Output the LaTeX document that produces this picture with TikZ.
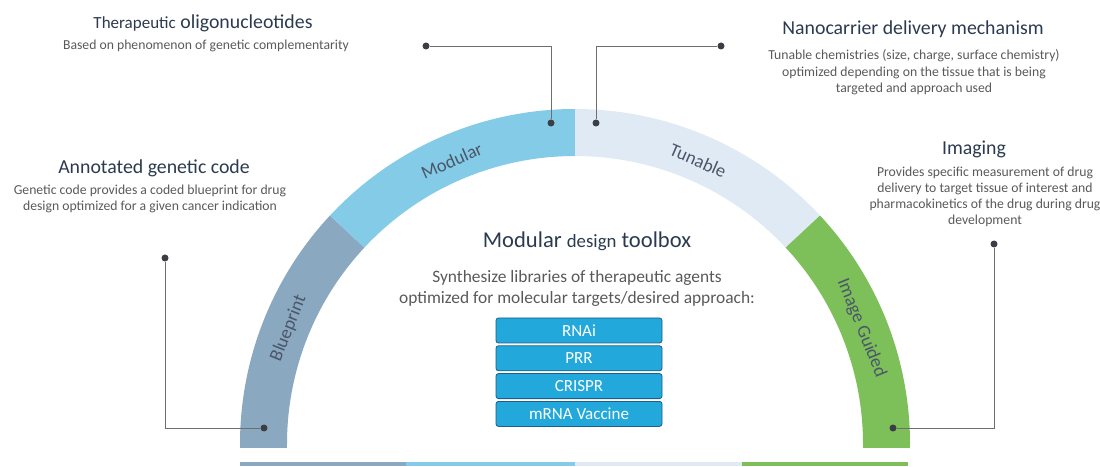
\documentclass[tikz,border=0pt]{standalone}
\usepackage{fontspec}
\setmainfont{Carlito}
\usetikzlibrary{positioning}

\definecolor{bpblue}{HTML}{8AA8C0}
\definecolor{modblue}{HTML}{84CBE8}
\definecolor{tunblue}{HTML}{E0EAF5}
\definecolor{imggreen}{HTML}{7DC05A}
\definecolor{boxblue}{HTML}{22A8DA}
\definecolor{boxedge}{HTML}{1D5F86}
\definecolor{headcol}{HTML}{2B3A4F}
\definecolor{textcol}{HTML}{595959}
\definecolor{linkcol}{HTML}{6E6E6E}
\definecolor{dotcol}{HTML}{3B3E45}

\tikzset{
  head/.style={text=headcol, font=\fontsize{19.8}{22}\selectfont, inner sep=0pt, anchor=base},
  body/.style={text=textcol, font=\fontsize{13.7}{16}\selectfont, align=center, inner sep=0pt, anchor=base},
  ringlabel/.style={text=headcol!85, font=\fontsize{18.5}{20}\selectfont, inner sep=0pt},
  toolbox/.style={draw=boxedge, fill=boxblue, rounded corners=2.5pt, line width=0.8pt,
    minimum width=166pt, minimum height=25pt, inner sep=0pt,
    text=white, font=\fontsize{17}{18}\selectfont},
  link/.style={draw=linkcol, line width=0.9pt},
  pin/.style={circle, fill=dotcol, minimum size=7pt, inner sep=0pt},
}

\begin{document}
\begin{tikzpicture}[x=1pt,y=1pt]
  \useasboundingbox (0,0) rectangle (1100,466);
  \coordinate (c) at (575,22);

  \foreach \a/\b/\col in {180/137/bpblue, 137/90/modblue, 90/43/tunblue, 43/0/imggreen}
    \fill[\col] ([shift={(c)}]\a:335) arc[start angle=\a, end angle=\b, radius=335]
      -- ([shift={(c)}]\b:288) arc[start angle=\b, end angle=\a, radius=288] -- cycle;
  \fill[bpblue] (240,18) rectangle (287,22.5);
  \fill[imggreen] (863,18) rectangle (910,22.5);

  \foreach \m/\lab [count=\i] in {158/Blueprint, 113.5/Modular, 66.5/Tunable, 22/Image Guided}
    \node[ringlabel, rotate=\m-90] (ring\i) at ([shift={(c)}]\m:309) {\lab};

  \foreach \xa/\xb/\col in {240/406/bpblue, 406/575/modblue, 575/742/tunblue, 742/908/imggreen}
    \fill[\col] (\xa,0) rectangle (\xb,4);

  \node[head] (thtitle) at (203,437) {{\fontsize{17}{20}\selectfont Therapeutic} oligonucleotides};
  \node[body] (thtext) at (206,416) {Based on phenomenon of genetic complementarity};

  \node[head] (antitle) at (154,292) {Annotated genetic code};
  \node[body] (antext) at (150,255) {Genetic code provides a coded blueprint for drug\\design optimized for a given cancer indication};

  \node[head] (natitle) at (913,431) {Nanocarrier delivery mechanism};
  \node[body, font=\fontsize{13.7}{16.5}\selectfont] (natext) at (914,373) {Tunable chemistries (size, charge, surface chemistry)\\optimized depending on the tissue that is being\\targeted and approach used};

  \node[head] (imtitle) at (974,311) {Imaging};
  \node[body] (imtext) at (985,241) {Provides specific measurement of drug\\delivery to target tissue of interest and\\pharmacokinetics of the drug during drug\\development};

  \node[head, font=\fontsize{22.6}{24}\selectfont] (tbtitle) at (587,218) {Modular {\fontsize{18.8}{20}\selectfont design} toolbox};
  \node[body, font=\fontsize{17.4}{21}\selectfont] (tbtext) at (577,162) {Synthesize libraries of therapeutic agents\\optimized for molecular targets/desired approach:};

  \node[toolbox] (rnai) at (579,135.5) {RNAi};
  \node[toolbox, below=2pt of rnai] (prr) {PRR};
  \node[toolbox, below=2pt of prr] (crispr) {CRISPR};
  \node[toolbox, below=2pt of crispr] (mrna) {mRNA Vaccine};

  \node[pin] (p1) at (426,420) {};
  \node[pin] (q1) at (551,343) {};
  \node[pin] (p2) at (721,420) {};
  \node[pin] (q2) at (596,343) {};
  \node[pin] (p3) at (165,208) {};
  \node[pin] (q3) at (264,38) {};
  \node[pin] (p4) at (994,222) {};
  \node[pin] (q4) at (893,38) {};
  \draw[link] (p1) -| (q1);
  \draw[link] (p2) -| (q2);
  \draw[link] (p3) |- (q3);
  \draw[link] (p4) |- (q4);
\end{tikzpicture}
\end{document}
